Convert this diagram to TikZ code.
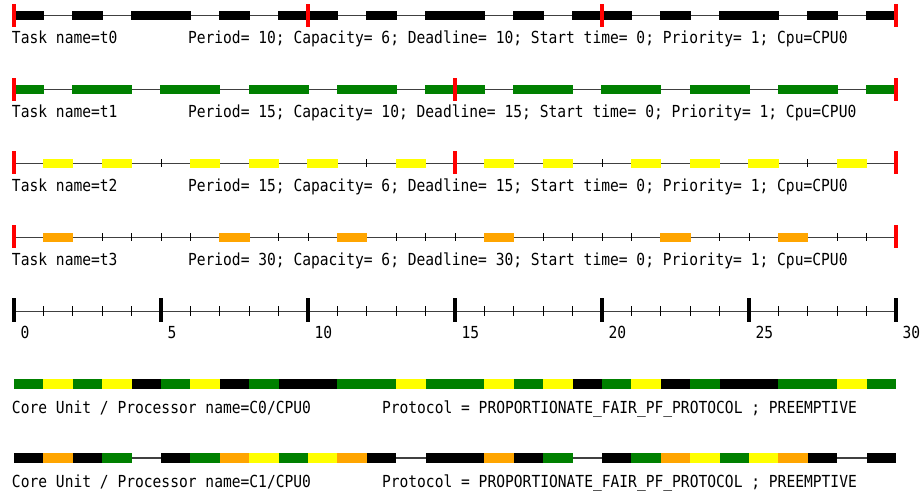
\documentclass[tikz,border=0pt]{standalone}
\usepackage{fontspec}
\newfontfamily\monof[FakeStretch=0.88]{DejaVu Sans Mono}
\definecolor{tgreen}{RGB}{0,128,0}
\definecolor{tyellow}{RGB}{255,255,0}
\definecolor{torange}{RGB}{255,165,0}
\definecolor{tred}{RGB}{255,0,0}
\begin{document}
\begin{tikzpicture}[x=1pt,y=-1pt]
\tikzset{
  tline/.style={draw=black!75, line width=1.2pt},
  tickmark/.style={draw=black, line width=1pt},
  majortick/.style={draw=black, line width=4pt},
  lbl/.style={anchor=base west, inner sep=0pt, outer sep=0pt, font=\monof\fontsize{16.6}{19}\selectfont},
}
\useasboundingbox[fill=white] (0,0) rectangle (922,495);
% task row macro: #1 y, #2 colour, #3 bars, #4 deadlines
\newcommand\taskrow[4]{%
  \draw[tline] (14,#1) -- (896,#1);
  \foreach \i in {1,...,29} \draw[tickmark] ({14+29.4*\i},{#1-4}) -- ({14+29.4*\i},{#1+4});
  \foreach \a/\b in {#3} \fill[#2] ({14+29.4*\a-0.6},{#1-4.5}) rectangle ({14+29.4*\b+0.6},{#1+4.5});
  \foreach \d in {#4} \fill[tred] ({14+29.4*\d-2},{#1-12}) rectangle ({14+29.4*\d+2},{#1+11});
}
\newcommand\procrow[2]{%
  \draw[tline] (14,#1) -- (896,#1);
  \foreach \a/\b/\c in {#2} \fill[\c] ({14+29.4*\a},{#1-5}) rectangle ({14+29.4*\b},{#1+5});
}
% t0
\taskrow{15.7}{black}{0/1,2/3,4/6,7/8,9/10,10/11,12/13,14/16,17/18,19/20,20/21,22/23,24/26,27/28,29/30}{0,10,20,30}
\node[lbl] (t0name) at (12,44) {Task name=t0};
\node[lbl] (t0info) at (188,44) {Period= 10; Capacity= 6; Deadline= 10; Start time= 0; Priority= 1; Cpu=CPU0};
% t1
\taskrow{89.6}{tgreen}{0/1,2/4,5/7,8/10,11/13,14/15,15/16,17/19,20/22,23/25,26/28,29/30}{0,15,30}
\node[lbl] (t1name) at (12,117.9) {Task name=t1};
\node[lbl] (t1info) at (188,117.9) {Period= 15; Capacity= 10; Deadline= 15; Start time= 0; Priority= 1; Cpu=CPU0};
% t2
\taskrow{163.4}{tyellow}{1/2,3/4,6/7,8/9,10/11,13/14,16/17,18/19,21/22,23/24,25/26,28/29}{0,15,30}
\node[lbl] (t2name) at (12,191.7) {Task name=t2};
\node[lbl] (t2info) at (188,191.7) {Period= 15; Capacity= 6; Deadline= 15; Start time= 0; Priority= 1; Cpu=CPU0};
% t3
\taskrow{237.3}{torange}{1/2,7/8,11/12,16/17,22/23,26/27}{0,30}
\node[lbl] (t3name) at (12,265.6) {Task name=t3};
\node[lbl] (t3info) at (188,265.6) {Period= 30; Capacity= 6; Deadline= 30; Start time= 0; Priority= 1; Cpu=CPU0};
% time axis
\draw[tline] (14,311.7) -- (896,311.7);
\foreach \i in {1,...,29} \draw[tickmark] ({14+29.4*\i},306) -- ({14+29.4*\i},316);
\foreach \i in {0,5,...,30} {
  \draw[majortick] ({14+29.4*\i},298) -- ({14+29.4*\i},322);
  \node[lbl] (ax\i) at ({14+29.4*\i+6.5},338) {\i};
}
% processors
\procrow{384}{0/1/tgreen,1/2/tyellow,2/3/tgreen,3/4/tyellow,4/5/black,5/6/tgreen,6/7/tyellow,7/8/black,8/9/tgreen,9/11/black,11/13/tgreen,13/14/tyellow,14/16/tgreen,16/17/tyellow,17/18/tgreen,18/19/tyellow,19/20/black,20/21/tgreen,21/22/tyellow,22/23/black,23/24/tgreen,24/26/black,26/28/tgreen,28/29/tyellow,29/30/tgreen}
\node[lbl] (c0name) at (12,413.5) {Core Unit / Processor name=C0/CPU0};
\node[lbl] (c0proto) at (382,413.5) {Protocol = PROPORTIONATE\_FAIR\_PF\_PROTOCOL ; PREEMPTIVE};
\procrow{458}{0/1/black,1/2/torange,2/3/black,3/4/tgreen,5/6/black,6/7/tgreen,7/8/torange,8/9/tyellow,9/10/tgreen,10/11/tyellow,11/12/torange,12/13/black,14/16/black,16/17/torange,17/18/black,18/19/tgreen,20/21/black,21/22/tgreen,22/23/torange,23/24/tyellow,24/25/tgreen,25/26/tyellow,26/27/torange,27/28/black,29/30/black}
\node[lbl] (c1name) at (12,487.5) {Core Unit / Processor name=C1/CPU0};
\node[lbl] (c1proto) at (382,487.5) {Protocol = PROPORTIONATE\_FAIR\_PF\_PROTOCOL ; PREEMPTIVE};
\end{tikzpicture}
\end{document}
